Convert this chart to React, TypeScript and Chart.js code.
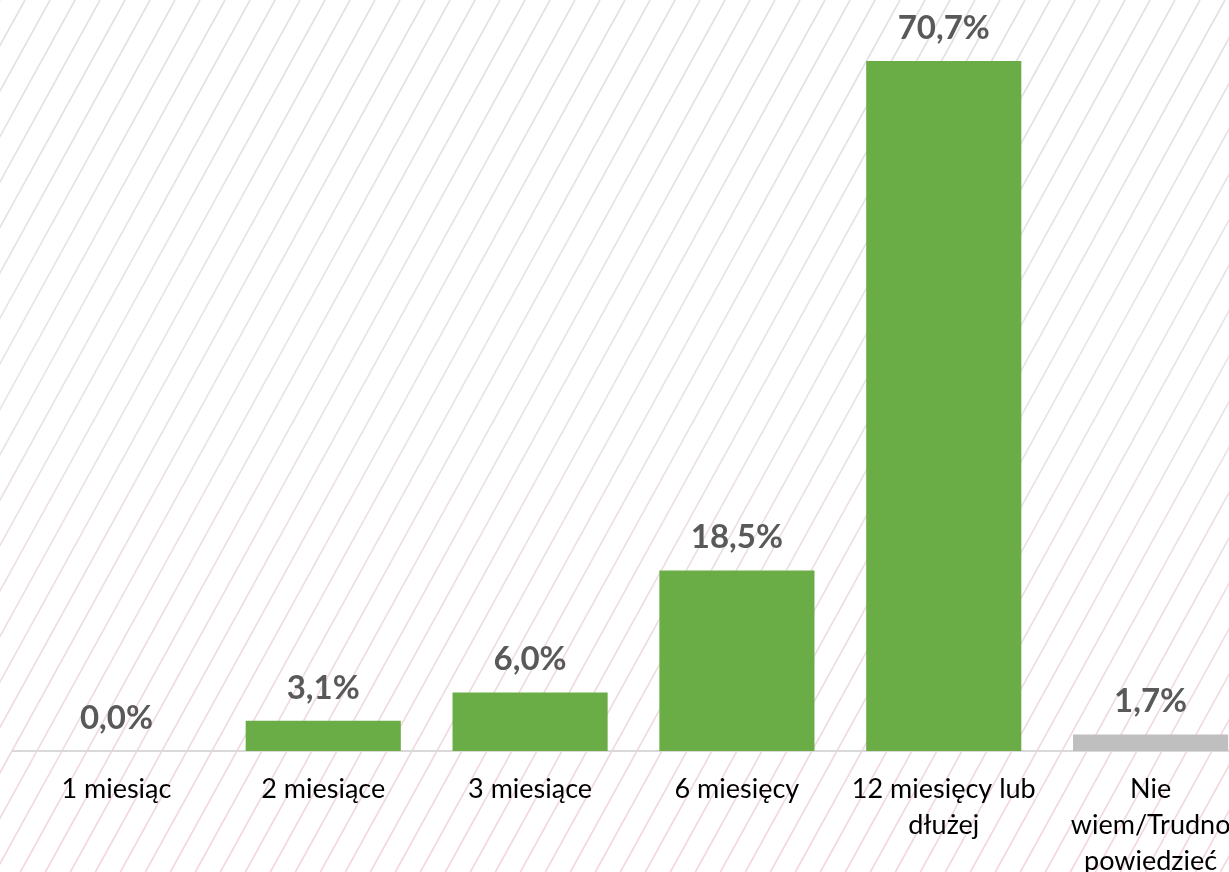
import React, { useEffect, useRef } from "react";
import { Chart, registerables } from "chart.js";

Chart.register(...registerables);

const categories: string[][] = [
  ["1 miesiąc"],
  ["2 miesiące"],
  ["3 miesiące"],
  ["6 miesięcy"],
  ["12 miesięcy lub", "dłużej"],
  ["Nie", "wiem/Trudno", "powiedzieć"],
];
const values: number[] = [0.0, 3.1, 6.0, 18.5, 70.7, 1.7];
const barColors: string[] = ["#6aad46", "#6aad46", "#6aad46", "#6aad46", "#6aad46", "#bfbfbf"];
const valueLabels: string[] = ["0,0%", "3,1%", "6,0%", "18,5%", "70,7%", "1,7%"];

const FONT = "Lato, 'Open Sans', 'DejaVu Sans', sans-serif";

const stripesPlugin = {
  id: "stripes",
  beforeDraw(chart: any) {
    const { ctx, width, height } = chart;
    ctx.save();
    ctx.fillStyle = "#ffffff";
    ctx.fillRect(0, 0, width, height);
    const grad = ctx.createLinearGradient(0, 0, 0, height);
    grad.addColorStop(0, "#e0e0e0");
    grad.addColorStop(0.4, "#e7e4e5");
    grad.addColorStop(1, "#f3d6da");
    ctx.strokeStyle = grad;
    ctx.lineWidth = 1.6;
    const k = 0.55;
    const spacing = 25;
    for (let x0 = -height * k - spacing; x0 < width + spacing; x0 += spacing) {
      ctx.beginPath();
      ctx.moveTo(x0, height);
      ctx.lineTo(x0 + height * k, 0);
      ctx.stroke();
    }
    ctx.restore();
  },
};

const valueLabelPlugin = {
  id: "valueLabels",
  afterDatasetsDraw(chart: any) {
    const { ctx } = chart;
    const meta = chart.getDatasetMeta(0);
    ctx.save();
    ctx.font = `bold 33px ${FONT}`;
    ctx.fillStyle = "#595959";
    ctx.textAlign = "center";
    ctx.textBaseline = "alphabetic";
    meta.data.forEach((bar: any, i: number) => {
      ctx.fillText(valueLabels[i], bar.x, bar.y - 22);
    });
    ctx.restore();
  },
};

export default function App() {
  const ref = useRef<HTMLCanvasElement | null>(null);
  useEffect(() => {
    if (!ref.current) return;
    const chart = new Chart(ref.current, {
      type: "bar",
      data: {
        labels: categories,
        datasets: [
          {
            data: values,
            backgroundColor: barColors,
            borderWidth: 0,
            categoryPercentage: 1,
            barPercentage: 0.75,
          },
        ],
      },
      options: {
        responsive: false,
        animation: false,
        layout: { padding: { top: 19, left: 13, right: 0, bottom: 0 } },
        plugins: { legend: { display: false }, tooltip: { enabled: false } },
        scales: {
          x: {
            grid: { display: false, drawTicks: false },
            border: { color: "#d9d9d9", width: 2 },
            ticks: {
              color: "#000000",
              font: { family: FONT, size: 27, lineHeight: 36 / 27 },
              padding: 20,
              maxRotation: 0,
              autoSkip: false,
            },
            afterFit(scale: any) {
              scale.height = 121;
            },
          },
          y: {
            display: false,
            min: 0,
            max: 75,
          },
        },
      },
      plugins: [stripesPlugin, valueLabelPlugin],
    });
    return () => chart.destroy();
  }, []);
  return (
    <div style={{ position: "absolute", left: 0, top: 0, width: 1229, height: 872, overflow: "hidden" }}>
      <canvas ref={ref} width={1254} height={872} style={{ display: "block" }} />
    </div>
  );
}
